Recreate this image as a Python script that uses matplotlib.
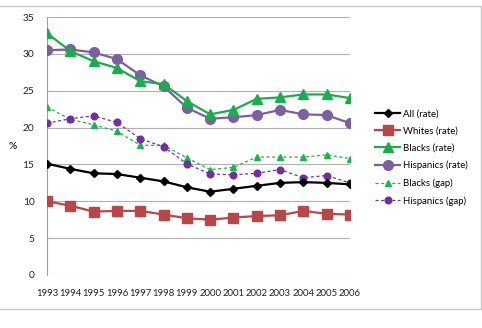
import matplotlib
matplotlib.use('Agg')
import matplotlib.pyplot as plt
from matplotlib.patches import Rectangle

years = list(range(1993, 2007))
all_rate = [15.1, 14.4, 13.8, 13.7, 13.2, 12.7, 11.9, 11.3, 11.7, 12.1, 12.5, 12.6, 12.5, 12.3]
whites_rate = [10.0, 9.4, 8.6, 8.7, 8.7, 8.2, 7.7, 7.5, 7.8, 8.0, 8.1, 8.7, 8.3, 8.2]
blacks_rate = [32.8, 30.4, 29.0, 28.1, 26.3, 25.9, 23.6, 21.8, 22.4, 23.9, 24.1, 24.5, 24.5, 24.0]
hispanics_rate = [30.5, 30.6, 30.2, 29.3, 27.1, 25.6, 22.7, 21.2, 21.4, 21.7, 22.4, 21.8, 21.7, 20.6]
blacks_gap = [22.8, 21.1, 20.4, 19.5, 17.6, 17.6, 15.9, 14.3, 14.6, 16.0, 16.0, 16.0, 16.3, 15.8]
hispanics_gap = [20.6, 21.2, 21.6, 20.7, 18.5, 17.4, 15.1, 13.7, 13.6, 13.8, 14.3, 13.2, 13.5, 12.5]

plt.rcParams['font.family'] = ['Lato', 'DejaVu Sans']
fs = 6.9

fig = plt.figure(figsize=(4.82, 3.28), dpi=100)
ax = fig.add_axes([0.0975, 0.1616, 0.6285, 0.7864])

# outer frame like the spreadsheet chart area
fig.patches.append(Rectangle((-0.01, 0.058), 1.008, 0.924, transform=fig.transFigure,
                             fill=False, edgecolor='#c8c8c8', linewidth=1.0))

ax.plot(years, all_rate, color='black', lw=1.6, marker='D', ms=4, label='All (rate)', zorder=5)
ax.plot(years, whites_rate, color='#b8474a', lw=1.6, marker='s', ms=6.5, label='Whites (rate)', zorder=4)
ax.plot(years, blacks_rate, color='#1aac4e', lw=1.6, marker='^', ms=6.5, label='Blacks (rate)', zorder=4)
ax.plot(years, hispanics_rate, color='#7d5fa0', lw=1.6, marker='o', ms=7, label='Hispanics (rate)', zorder=3)
ax.plot(years, blacks_gap, color='#22b24c', lw=0.9, ls=(0, (2.5, 2)), marker='^', ms=4.8,
        label='Blacks (gap)', zorder=3)
ax.plot(years, hispanics_gap, color='#7a2fb0', lw=0.9, ls=(0, (2.5, 2)), marker='o', ms=4.8,
        mfc='#7030a0', mec='#7030a0', label='Hispanics (gap)', zorder=3)

ax.set_xlim(1993, 2006)
ax.set_ylim(0, 35)
ax.set_yticks(range(0, 36, 5))
ax.set_xticks(years)
ax.grid(axis='y', color='#b0b0b0', lw=0.8)
ax.set_axisbelow(True)
for s in ['top', 'right', 'bottom']:
    ax.spines[s].set_visible(False)
ax.spines['left'].set_color('#a0a0a0')
ax.tick_params(axis='y', length=0, labelsize=7.3, colors='#222222', pad=9)
ax.tick_params(axis='x', length=0, labelsize=fs, colors='#222222', pad=10)
ax.set_ylabel('%', rotation=0, fontsize=7.3, labelpad=7, va='center')

ax.legend(loc='center left', bbox_to_anchor=(1.055, 0.455), frameon=False, fontsize=fs,
          handlelength=2.6, labelspacing=0.85, handletextpad=0.35)

fig.savefig('out.png', dpi=100)
